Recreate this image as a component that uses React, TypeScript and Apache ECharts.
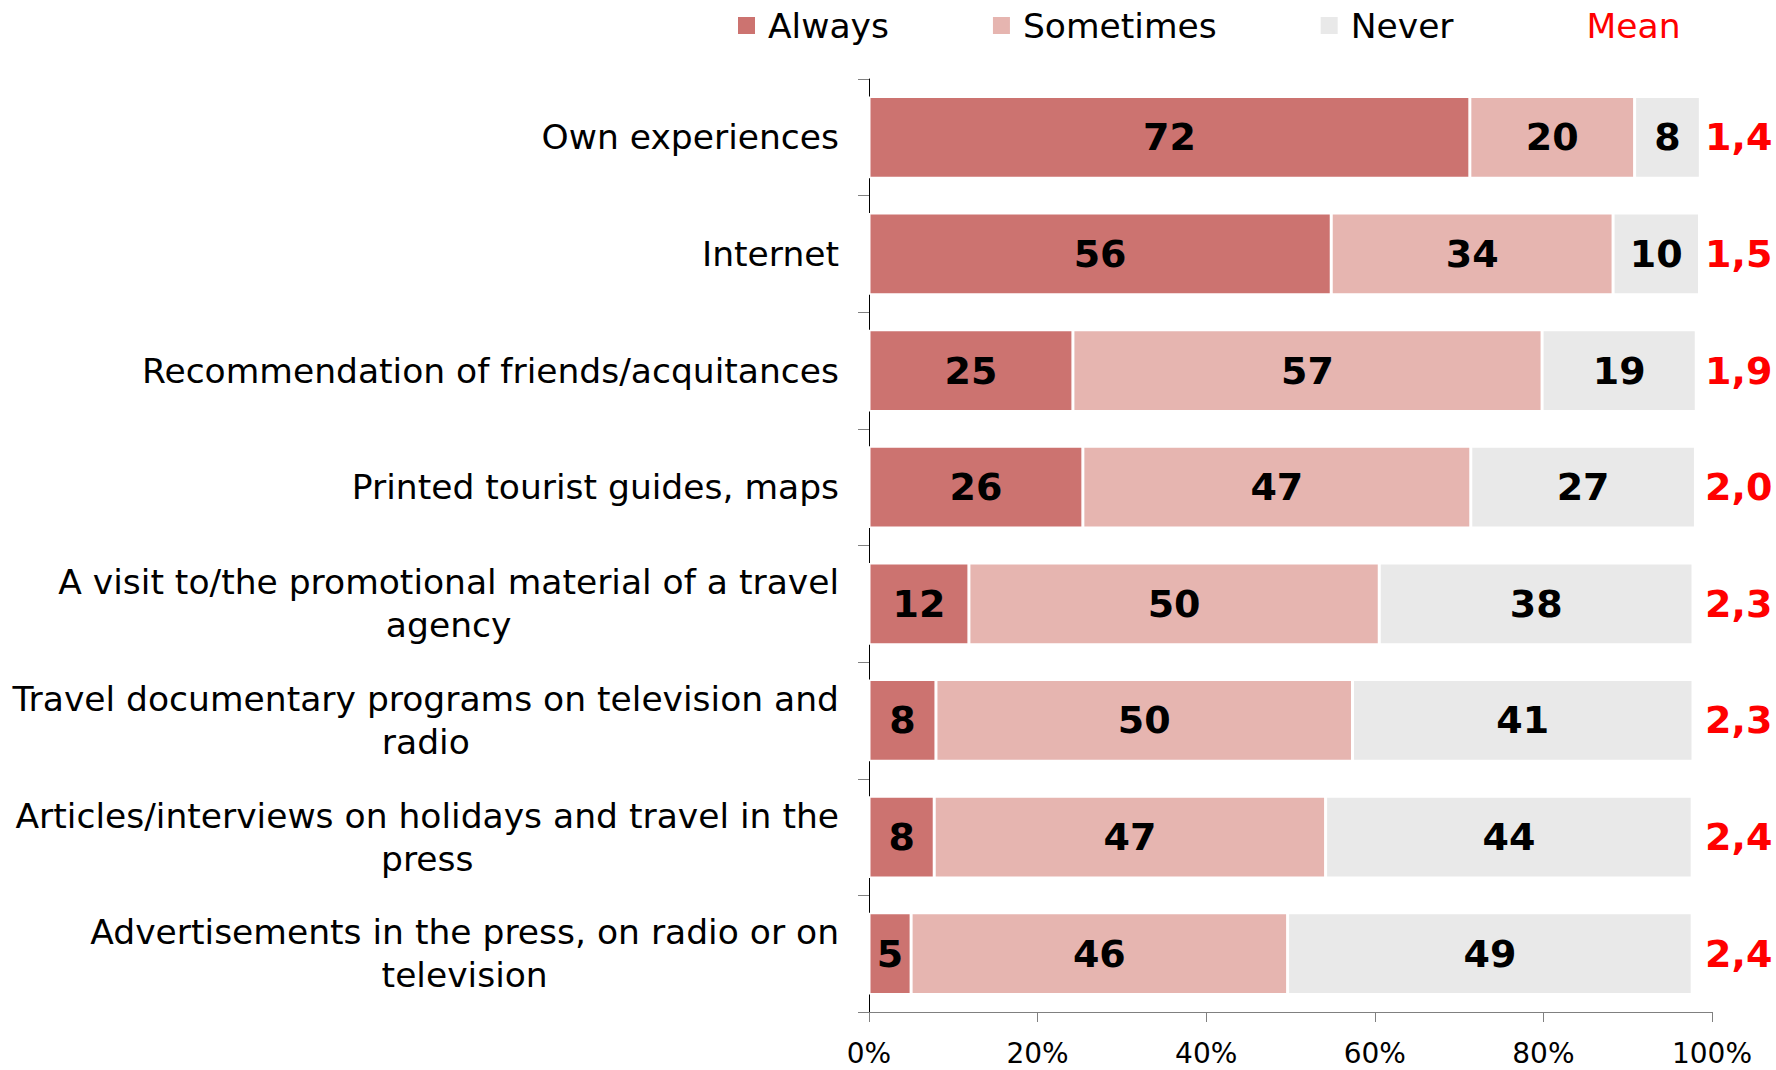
import React, { useEffect, useRef } from "react";
import * as echarts from "echarts";

const categories = [
  "Own experiences",
  "Internet",
  "Recommendation of friends/acquitances",
  "Printed tourist guides, maps",
  "A visit to/the promotional material of a travel\nagency",
  "Travel documentary programs on television and\nradio",
  "Articles/interviews on holidays and travel in the\npress",
  "Advertisements in the press, on radio or on\ntelevision",
];
const always = [72.2, 55.6, 24.6, 25.8, 12.1, 8.1, 7.9, 5.1];
const sometimes = [19.8, 33.9, 56.6, 46.8, 49.7, 50.4, 47.4, 45.6];
const never = [7.9, 10.4, 18.6, 27.1, 38.0, 41.2, 44.4, 49.0];
const mean = [1.4, 1.5, 1.9, 2.0, 2.3, 2.3, 2.4, 2.4];
const xTicks = [0, 20, 40, 60, 80, 100];

const FONT = "'DejaVu Sans', Verdana, sans-serif";
const COLORS = ["#CC7370", "#E6B5B0", "#E9E9E9"];

export default function App() {
  const ref = useRef<HTMLDivElement>(null);
  useEffect(() => {
    if (!ref.current) return;
    const chart = echarts.init(ref.current, null, { renderer: "svg" });
    const totals = categories.map(
      (_, i) => always[i] + sometimes[i] + never[i] + mean[i]
    );
    const norm = (arr: number[]) => arr.map((v, i) => (v / totals[i]) * 100);
    const valueLabel = (raw: number[]) => ({
      show: true,
      position: "inside",
      color: "#000",
      fontFamily: FONT,
      fontWeight: "bold",
      fontSize: 38,
      formatter: (p: any) => String(Math.round(raw[p.dataIndex])),
    });
    const seg = (name: string, raw: number[], color: string) => ({
      name,
      type: "bar",
      stack: "total",
      barCategoryGap: "30%",
      data: norm(raw),
      itemStyle: { color, borderColor: "#fff", borderWidth: 1.5 },
      label: valueLabel(raw),
      emphasis: { disabled: true },
    });
    chart.setOption({
      animation: false,
      backgroundColor: "#fff",
      legend: {
        left: 731,
        top: 3,
        itemWidth: 19,
        itemHeight: 19,
        itemGap: 102,
        selectedMode: false,
        textStyle: {
          fontFamily: FONT,
          fontSize: 34.5,
          color: "#000",
          padding: [0, 0, 0, 7],
        },
        data: [
          { name: "Always", icon: "rect" },
          { name: "Sometimes", icon: "rect" },
          { name: "Never", icon: "rect" },
          { name: "Mean", icon: "none", textStyle: { color: "#FF0000" } },
        ],
      },
      grid: { left: 869, right: 64, top: 79, bottom: 58 },
      xAxis: {
        type: "value",
        min: 0,
        max: 100,
        interval: 20,
        splitLine: { show: false },
        axisLine: { show: true, lineStyle: { color: "#808080", width: 1 } },
        axisTick: { show: true, length: 10, lineStyle: { color: "#808080" } },
        axisLabel: {
          margin: 27,
          fontFamily: FONT,
          fontSize: 28,
          lineHeight: 28,
          color: "#000",
          customValues: xTicks,
          formatter: (v: number) => `${v}%`,
        },
      },
      yAxis: {
        type: "category",
        inverse: true,
        data: categories,
        axisLine: { show: true, lineStyle: { color: "#000", width: 1 } },
        axisTick: { show: true, length: 11, lineStyle: { color: "#808080" } },
        axisLabel: {
          margin: 30,
          formatter: (v: string) =>
            v
              .split("\n")
              .map((l) => `{c|${l}}`)
              .join("\n"),
          rich: {
            c: {
              fontFamily: FONT,
              fontSize: 34.5,
              color: "#000",
              lineHeight: 43,
              align: "center",
            },
          },
        },
      },
      series: [
        seg("Always", always, COLORS[0]),
        seg("Sometimes", sometimes, COLORS[1]),
        seg("Never", never, COLORS[2]),
        {
          name: "Mean",
          type: "bar",
          stack: "total",
          data: norm(mean),
          itemStyle: { color: "rgba(0,0,0,0)" },
          emphasis: { disabled: true },
          label: {
            show: true,
            position: "right",
            distance: 5,
            offset: [-12, 0],
            color: "#FF0000",
            fontFamily: FONT,
            fontWeight: "bold",
            fontSize: 38,
            formatter: (p: any) =>
              mean[p.dataIndex].toFixed(1).replace(".", ","),
          },
        },
      ],
    });
    return () => chart.dispose();
  }, []);
  return (
    <div
      ref={ref}
      style={{ position: "absolute", left: 0, top: 0, width: 1776, height: 1070 }}
    />
  );
}
